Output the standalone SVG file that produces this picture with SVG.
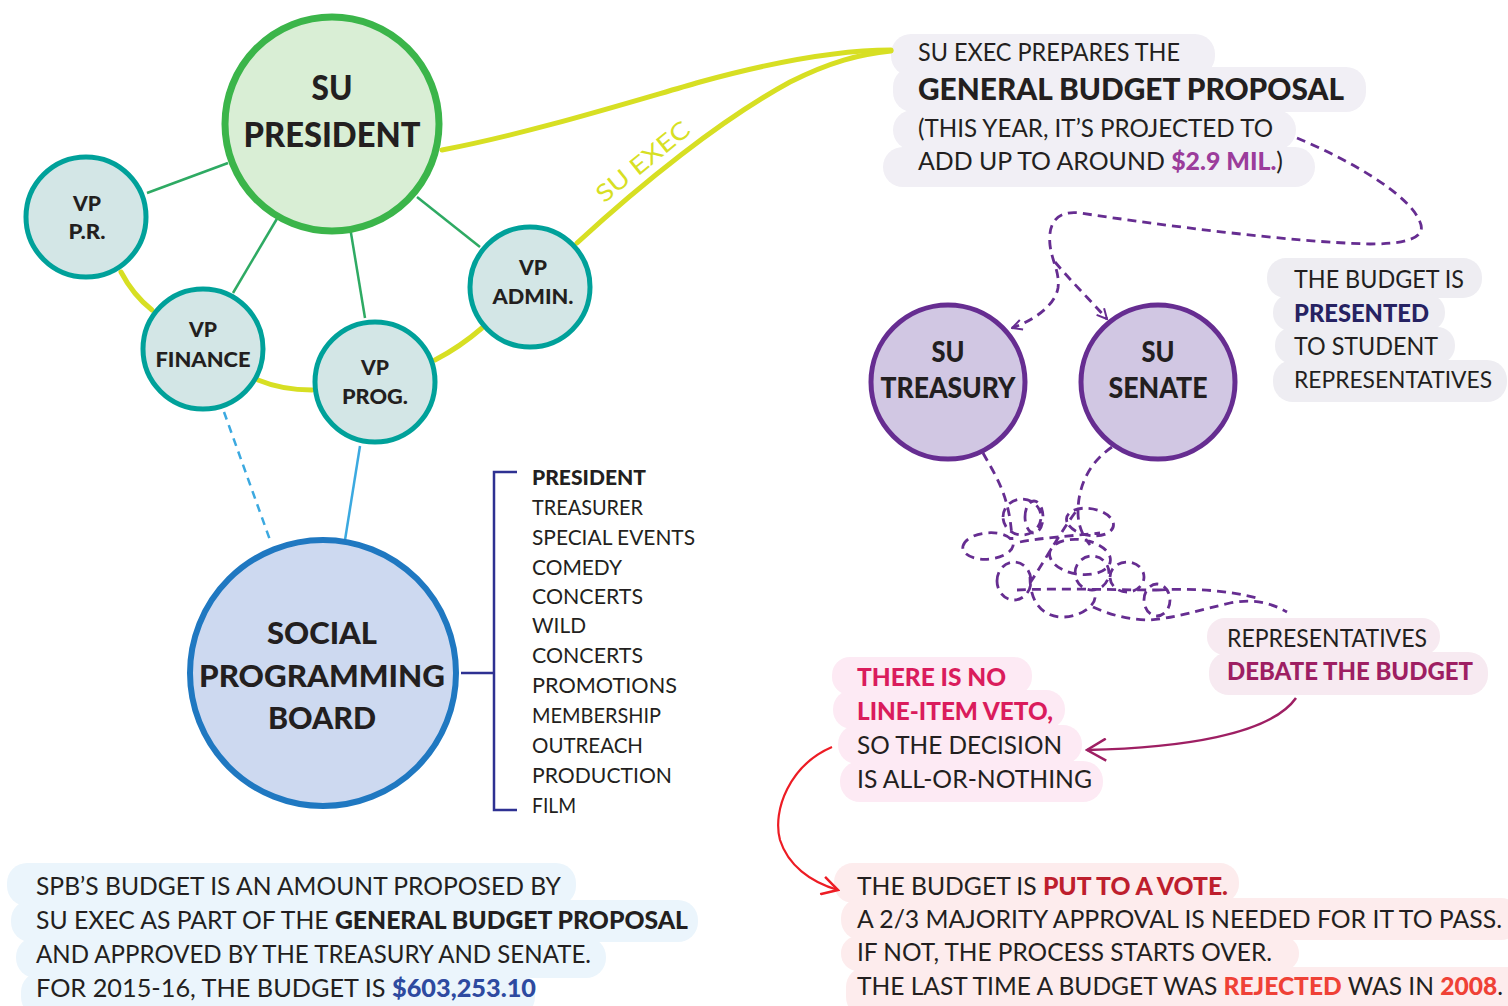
<svg xmlns="http://www.w3.org/2000/svg" width="1508" height="1006" viewBox="0 0 1508 1006">
<style>
text{font-family:Lato,"Liberation Sans",sans-serif;fill:#231f20;}
.b{font-weight:900;}
.body{font-size:25px;}
.list{font-size:21px;}
.vp{font-size:21px;font-weight:900;text-anchor:middle;}
.c{text-anchor:middle;font-weight:900;}
.green{stroke:#2eaa63;stroke-width:2.5;fill:none;}
.yel{stroke:#d7df23;stroke-width:5;fill:none;stroke-linecap:round;}
.blue{stroke:#3ba9e0;stroke-width:2.5;fill:none;}
.pd{stroke:#662d91;stroke-width:2.8;fill:none;stroke-dasharray:9 6;}
.vpnode{fill:#d3e6e6;stroke:#00a19a;stroke-width:5;}
.sunode{fill:#d1c7e3;stroke:#662d91;stroke-width:5;}
</style>
<defs>
<marker id="ap" viewBox="0 0 12 12" refX="11" refY="6" markerWidth="12" markerHeight="12" markerUnits="userSpaceOnUse" orient="auto">
<path d="M1,1 L11,6 L1,11" fill="none" stroke="#662d91" stroke-width="2"/>
</marker>
<marker id="ar" viewBox="0 0 20 20" refX="18" refY="10" markerWidth="20" markerHeight="20" markerUnits="userSpaceOnUse" orient="auto">
<path d="M2,1 L18,10 L2,19" fill="none" stroke="#ed1c24" stroke-width="2.5"/>
</marker>
<marker id="am" viewBox="0 0 24 24" refX="22" refY="12" markerWidth="24" markerHeight="24" markerUnits="userSpaceOnUse" orient="auto">
<path d="M3,1 L22,12 L3,23" fill="none" stroke="#9e1f63" stroke-width="2.5"/>
</marker>
</defs>
<rect width="1508" height="1006" fill="#ffffff"/>

<!-- highlight backgrounds -->
<g id="bg-proposal" fill="#f1eff5">
<rect x="891" y="34" width="324" height="42" rx="20"/>
<rect x="893" y="67" width="473" height="45" rx="20"/>
<rect x="893" y="110" width="403" height="40" rx="20"/>
<rect x="883" y="147" width="432" height="40" rx="20"/>
</g>
<g id="bg-presented" fill="#eeedf2">
<rect x="1267" y="258" width="215" height="40" rx="19"/>
<rect x="1273" y="294" width="172" height="37" rx="18"/>
<rect x="1275" y="327" width="180" height="37" rx="18"/>
<rect x="1273" y="360" width="234" height="42" rx="20"/>
</g>
<g id="bg-debate" fill="#f7eaf1">
<rect x="1207" y="618" width="233" height="37" rx="18"/>
<rect x="1209" y="652" width="279" height="43" rx="20"/>
</g>
<g id="bg-veto" fill="#fdeaf4">
<rect x="832" y="657" width="200" height="38" rx="18"/>
<rect x="833" y="690" width="232" height="39" rx="19"/>
<rect x="838" y="725" width="244" height="39" rx="19"/>
<rect x="840" y="761" width="263" height="41" rx="20"/>
</g>
<g id="bg-vote" fill="#fdeced">
<rect x="834" y="863" width="405" height="40" rx="19"/>
<rect x="841" y="898" width="680" height="42" rx="20"/>
<rect x="841" y="936" width="458" height="35" rx="17"/>
<rect x="846" y="967" width="680" height="50" rx="20"/>
</g>
<g id="bg-spb" fill="#ebf5fc">
<rect x="7" y="863" width="569" height="43" rx="20"/>
<rect x="11" y="900" width="687" height="42" rx="20"/>
<rect x="16" y="937" width="590" height="41" rx="20"/>
<rect x="21" y="972" width="514" height="45" rx="20"/>
</g>

<!-- connectors -->
<g id="connectors">
<line class="green" x1="147" y1="193" x2="228" y2="163"/>
<line class="green" x1="233" y1="293" x2="278" y2="217"/>
<line class="green" x1="365" y1="318" x2="350" y2="227"/>
<line class="green" x1="480" y1="247" x2="417" y2="197"/>
<path class="yel" d="M121,272 Q133,295 152,310"/>
<path class="yel" d="M258,380 Q282,390 312,390"/>
<path class="yel" d="M435,360 Q460,347 482,328"/>
<path class="yel" d="M442,150 C530,133 620,105 700,82 C780,60 840,50 891,50"/>
<path class="yel" d="M577,243 C640,185 720,120 790,82 C830,62 860,54 891,51"/>
<path class="blue" d="M224,412 L270,540" stroke-dasharray="8 6"/>
<path class="blue" d="M360,446 L345,540"/>
<path d="M461,673 L494,673 M517,472 L494,472 L494,810 L517,810" fill="none" stroke="#2e3192" stroke-width="2.5"/>
<path class="pd" d="M1297,138 C1350,160 1410,195 1420,222 C1428,240 1400,244 1370,244 C1290,242 1160,225 1080,213 C1055,210 1048,225 1050,245 C1052,262 1060,272 1058,288 C1055,305 1035,320 1012,328" marker-end="url(#ap)"/>
<path class="pd" d="M1055,262 C1070,280 1090,300 1107,319" marker-end="url(#ap)"/>
<path class="pd" d="M983,453 C995,475 1010,495 1012,540
M1003,517 A19,18 0 1 1 1041,517 A19,18 0 1 1 1003,517
M1025,517 A9,16 0 1 1 1043,517 A9,16 0 1 1 1025,517
M963,546 A25,13 -5 1 1 1013,546 A25,13 -5 1 1 963,546
M997,581 A17,19 0 1 1 1031,581 A17,19 0 1 1 997,581
M1112,447 C1090,462 1078,485 1078,512 C1078,525 1082,535 1090,545
M1067,522 A23,13 10 1 1 1113,522 A23,13 10 1 1 1067,522
M1050,557 A30,17 8 1 1 1110,557 A30,17 8 1 1 1050,557
M1075,573 A17,17 0 1 1 1109,573 A17,17 0 1 1 1075,573
M1110,577 A17,15 0 1 1 1144,577 A17,15 0 1 1 1110,577
M1144,600 A13,16 0 1 1 1170,600 A13,16 0 1 1 1144,600
M1030,577 C1030,600 1040,615 1060,617 C1080,618 1097,605 1095,595
M1017,590 C1060,588 1120,590 1157,590
M1020,542 C1040,538 1070,536 1100,533
M1030,583 C1045,560 1062,530 1077,510
M1093,607 C1110,615 1130,620 1150,620 C1175,618 1200,610 1230,603 C1250,599 1268,601 1287,612
M1157,590 C1190,588 1230,590 1260,599"/>
<path d="M1296,698 C1270,735 1180,748 1087,750" fill="none" stroke="#9e1f63" stroke-width="2.5" marker-end="url(#am)"/>
<path d="M832,747 C790,765 772,810 780,840 C788,865 810,882 838,890" fill="none" stroke="#ed1c24" stroke-width="2.2" marker-end="url(#ar)"/>
<text x="643" y="170" font-size="24" text-anchor="middle" transform="rotate(-39 643 162)" textLength="113" lengthAdjust="spacingAndGlyphs" style="fill:#d7df23">SU EXEC</text>
</g>

<!-- nodes -->
<g id="su-president">
<circle cx="332" cy="124" r="107" fill="#d9eed5" stroke="#3bb54a" stroke-width="7"/>
<text class="c" x="332" y="100" font-size="34" textLength="41" lengthAdjust="spacingAndGlyphs">SU</text>
<text class="c" x="332" y="147" font-size="34" textLength="177" lengthAdjust="spacingAndGlyphs">PRESIDENT</text>
</g>
<g id="vp-pr">
<circle class="vpnode" cx="86" cy="217" r="60"/>
<text class="vp" x="87" y="211" textLength="28" lengthAdjust="spacingAndGlyphs">VP</text>
<text class="vp" x="87" y="239" textLength="37" lengthAdjust="spacingAndGlyphs">P.R.</text>
</g>
<g id="vp-finance">
<circle class="vpnode" cx="203" cy="349" r="60"/>
<text class="vp" x="203" y="337" textLength="28" lengthAdjust="spacingAndGlyphs">VP</text>
<text class="vp" x="203" y="367" textLength="95" lengthAdjust="spacingAndGlyphs">FINANCE</text>
</g>
<g id="vp-prog">
<circle class="vpnode" cx="375" cy="382" r="60"/>
<text class="vp" x="375" y="375" textLength="28" lengthAdjust="spacingAndGlyphs">VP</text>
<text class="vp" x="375" y="404" textLength="66" lengthAdjust="spacingAndGlyphs">PROG.</text>
</g>
<g id="vp-admin">
<circle class="vpnode" cx="530" cy="287" r="60"/>
<text class="vp" x="533" y="275" textLength="28" lengthAdjust="spacingAndGlyphs">VP</text>
<text class="vp" x="533" y="304" textLength="81" lengthAdjust="spacingAndGlyphs">ADMIN.</text>
</g>
<g id="spb">
<circle cx="323" cy="673" r="133" fill="#cdd9f0" stroke="#1f78c1" stroke-width="6"/>
<text class="c" x="322" y="644" font-size="31" textLength="110" lengthAdjust="spacingAndGlyphs">SOCIAL</text>
<text class="c" x="322" y="687" font-size="31" textLength="246" lengthAdjust="spacingAndGlyphs">PROGRAMMING</text>
<text class="c" x="322" y="729" font-size="31" textLength="108" lengthAdjust="spacingAndGlyphs">BOARD</text>
</g>
<g id="su-treasury">
<circle class="sunode" cx="948" cy="382" r="77"/>
<text class="c" x="948" y="362" font-size="28" textLength="33" lengthAdjust="spacingAndGlyphs">SU</text>
<text class="c" x="948" y="398" font-size="28" textLength="135" lengthAdjust="spacingAndGlyphs">TREASURY</text>
</g>
<g id="su-senate">
<circle class="sunode" cx="1158" cy="382" r="77"/>
<text class="c" x="1158" y="362" font-size="28" textLength="33" lengthAdjust="spacingAndGlyphs">SU</text>
<text class="c" x="1158" y="398" font-size="28" textLength="99" lengthAdjust="spacingAndGlyphs">SENATE</text>
</g>

<!-- SPB committee list -->
<g id="spb-list">
<text x="532" y="485" class="b list" textLength="114" lengthAdjust="spacingAndGlyphs">PRESIDENT</text>
<text x="532" y="515" class="list" textLength="111" lengthAdjust="spacingAndGlyphs">TREASURER</text>
<text x="532" y="545" class="list" textLength="163" lengthAdjust="spacingAndGlyphs">SPECIAL EVENTS</text>
<text x="532" y="575" class="list" textLength="90" lengthAdjust="spacingAndGlyphs">COMEDY</text>
<text x="532" y="604" class="list" textLength="111" lengthAdjust="spacingAndGlyphs">CONCERTS</text>
<text x="532" y="633" class="list" textLength="54" lengthAdjust="spacingAndGlyphs">WILD</text>
<text x="532" y="663" class="list" textLength="111" lengthAdjust="spacingAndGlyphs">CONCERTS</text>
<text x="532" y="693" class="list" textLength="145" lengthAdjust="spacingAndGlyphs">PROMOTIONS</text>
<text x="532" y="723" class="list" textLength="129" lengthAdjust="spacingAndGlyphs">MEMBERSHIP</text>
<text x="532" y="753" class="list" textLength="111" lengthAdjust="spacingAndGlyphs">OUTREACH</text>
<text x="532" y="783" class="list" textLength="140" lengthAdjust="spacingAndGlyphs">PRODUCTION</text>
<text x="532" y="813" class="list" textLength="44" lengthAdjust="spacingAndGlyphs">FILM</text>
</g>

<!-- annotation texts -->
<g id="note-proposal">
<text x="918" y="61" class="body" textLength="262" lengthAdjust="spacingAndGlyphs">SU EXEC PREPARES THE</text>
<text x="918" y="100" class="b" font-size="30" textLength="426" lengthAdjust="spacingAndGlyphs">GENERAL BUDGET PROPOSAL</text>
<text x="918" y="137" class="body" textLength="355" lengthAdjust="spacingAndGlyphs">(THIS YEAR, IT’S PROJECTED TO</text>
<text x="918" y="170" class="body" textLength="365" lengthAdjust="spacingAndGlyphs">ADD UP TO AROUND <tspan class="b" style="fill:#9b3c9b">$2.9 MIL.</tspan>)</text>
</g>
<g id="note-presented">
<text x="1294" y="288" class="body" textLength="170" lengthAdjust="spacingAndGlyphs">THE BUDGET IS</text>
<text x="1294" y="322" class="body b" textLength="135" lengthAdjust="spacingAndGlyphs" style="fill:#262262">PRESENTED</text>
<text x="1294" y="355" class="body" textLength="144" lengthAdjust="spacingAndGlyphs">TO STUDENT</text>
<text x="1294" y="388" font-size="23" textLength="198" lengthAdjust="spacingAndGlyphs">REPRESENTATIVES</text>
</g>
<g id="note-debate">
<text x="1227" y="647" class="body" textLength="200" lengthAdjust="spacingAndGlyphs">REPRESENTATIVES</text>
<text x="1227" y="680" class="body b" textLength="246" lengthAdjust="spacingAndGlyphs" style="fill:#9e1f63">DEBATE THE BUDGET</text>
</g>
<g id="note-veto">
<text x="857" y="686" class="body b" textLength="149" lengthAdjust="spacingAndGlyphs" style="fill:#da1c5c">THERE IS NO</text>
<text x="857" y="720" class="body b" textLength="196" lengthAdjust="spacingAndGlyphs" style="fill:#da1c5c">LINE-ITEM VETO,</text>
<text x="857" y="754" class="body" textLength="205" lengthAdjust="spacingAndGlyphs">SO THE DECISION</text>
<text x="857" y="788" class="body" textLength="235" lengthAdjust="spacingAndGlyphs">IS ALL-OR-NOTHING</text>
</g>
<g id="note-vote">
<text x="857" y="895" class="body" textLength="371" lengthAdjust="spacingAndGlyphs">THE BUDGET IS <tspan class="b" style="fill:#be1e2d">PUT TO A VOTE.</tspan></text>
<text x="857" y="928" class="body" textLength="645" lengthAdjust="spacingAndGlyphs">A 2/3 MAJORITY APPROVAL IS NEEDED FOR IT TO PASS.</text>
<text x="857" y="961" class="body" textLength="415" lengthAdjust="spacingAndGlyphs">IF NOT, THE PROCESS STARTS OVER.</text>
<text x="857" y="995" class="body" textLength="646" lengthAdjust="spacingAndGlyphs">THE LAST TIME A BUDGET WAS <tspan class="b" style="fill:#ef4136">REJECTED</tspan> WAS IN <tspan class="b" style="fill:#ef4136">2008</tspan>.</text>
</g>
<g id="note-spb">
<text x="36" y="895" class="body" textLength="525" lengthAdjust="spacingAndGlyphs">SPB’S BUDGET IS AN AMOUNT PROPOSED BY</text>
<text x="36" y="929" class="body" textLength="652" lengthAdjust="spacingAndGlyphs">SU EXEC AS PART OF THE <tspan class="b">GENERAL BUDGET PROPOSAL</tspan></text>
<text x="36" y="963" class="body" textLength="555" lengthAdjust="spacingAndGlyphs">AND APPROVED BY THE TREASURY AND SENATE.</text>
<text x="36" y="997" class="body" textLength="500" lengthAdjust="spacingAndGlyphs">FOR 2015-16, THE BUDGET IS <tspan class="b" style="fill:#2e4aa0">$603,253.10</tspan></text>
</g>
</svg>
